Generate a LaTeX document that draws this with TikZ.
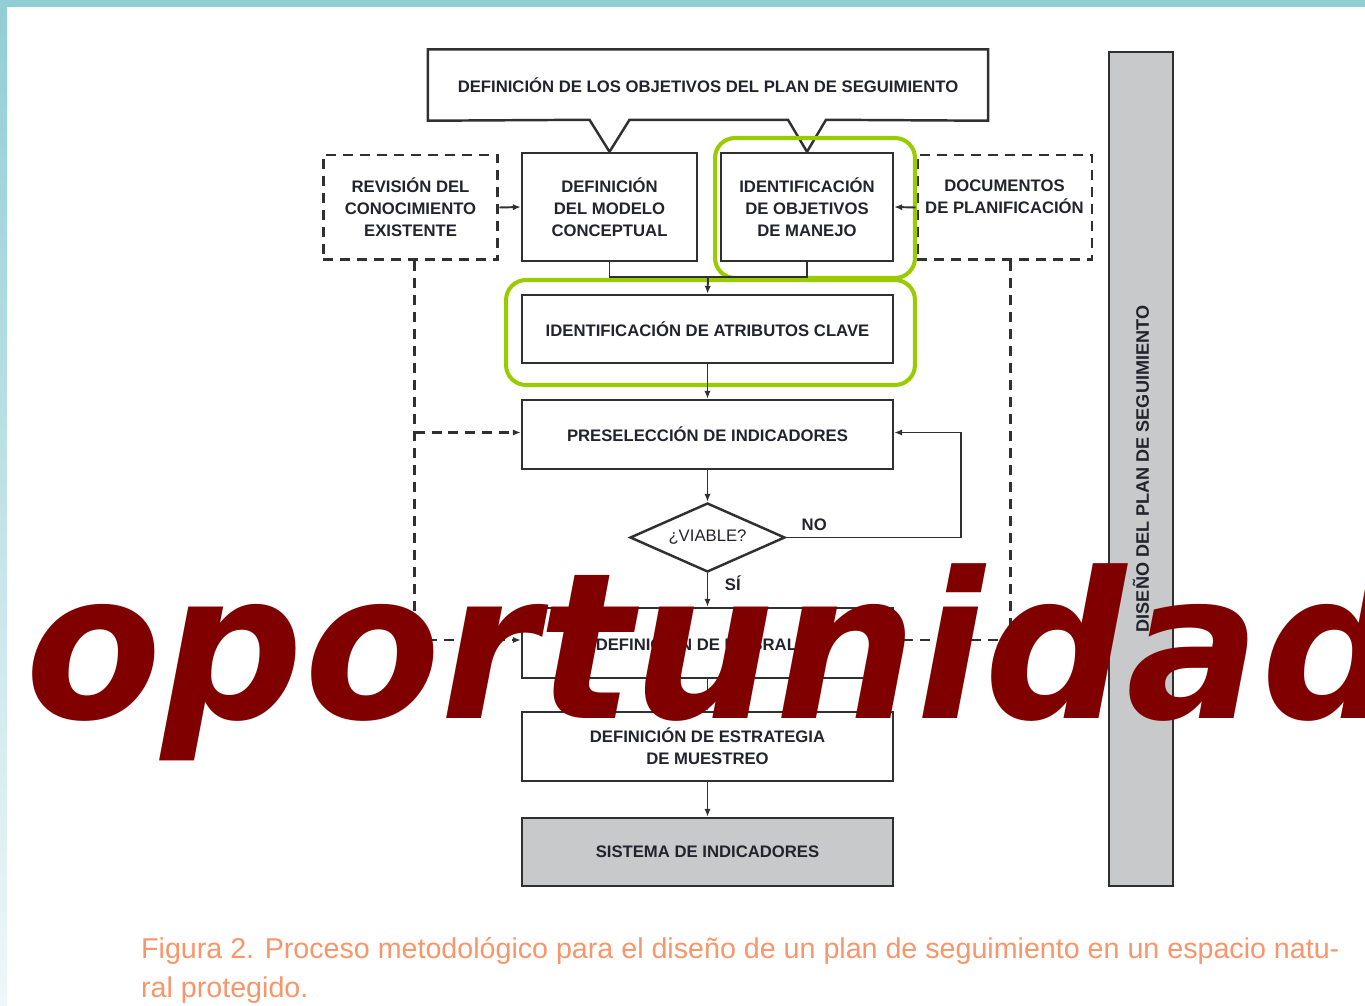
\documentclass[tikz,border=0pt]{standalone}
\usepackage{fontspec}
\setmainfont{Liberation Sans}
\newfontfamily\wmfont{DejaVu Sans}
\usetikzlibrary{shapes.geometric,arrows.meta,calc}
\definecolor{boxline}{HTML}{303030}
\definecolor{boxtext}{HTML}{23232E}
\definecolor{greenmark}{HTML}{99CC00}
\definecolor{barfill}{HTML}{C8C9CB}
\definecolor{frameblue}{HTML}{92CDD6}
\definecolor{captionorange}{HTML}{F7966A}
\definecolor{wmred}{HTML}{800000}

\begin{document}
\begin{tikzpicture}[x=0.02cm,y=-0.02cm,
stepbox/.style={draw=boxline, line width=1.4pt, minimum width=7.42cm, minimum height=1.38cm,
  align=center, text=boxtext, font=\fontsize{9.5}{12.5}\selectfont\bfseries},
smallbox/.style={stepbox, minimum width=3.5cm, minimum height=2.16cm},
sourcebox/.style={smallbox, dash pattern=on 0.2cm off 0.14cm, line width=1.7pt, minimum height=2.1cm},
highlight/.style={draw=greenmark, line width=2.3pt, rounded corners=0.4cm},
flow/.style={draw=boxline, line width=1.1pt, -{Latex[length=4.5pt,width=3.6pt]}},
feed/.style={flow, dash pattern=on 0.2cm off 0.14cm, line width=1.7pt},
lbl/.style={text=boxtext, font=\fontsize{9.5}{12}\selectfont\bfseries}]
    \useasboundingbox (0,0) rectangle (1365,1006);
    \clip (0,0) rectangle (1365,1006);
    % frame
    \fill[frameblue] (0,0) rectangle (1365,7);
    \shade[top color=frameblue, bottom color=frameblue!15] (0,0) rectangle (7,1006);

    % boxes
    \node [stepbox, draw=none, minimum width=11.16cm] (objplan) at (708,85)
      {DEFINICIÓN DE LOS OBJETIVOS DEL PLAN DE SEGUIMIENTO};
    \node [smallbox] (modelo) at (609.5,207) {DEFINICIÓN\\DEL MODELO\\CONCEPTUAL};
    \node [smallbox, minimum width=3.44cm] (manejo) at (807,207) {IDENTIFICACIÓN\\DE OBJETIVOS\\DE MANEJO};
    \node [sourcebox] (revision) at (410.5,207.5) {REVISIÓN DEL\\CONOCIMIENTO\\EXISTENTE};
    \node [sourcebox] (documentos) at (1004.5,207.5) {DOCUMENTOS\\DE PLANIFICACIÓN\\ };
    \node [stepbox, minimum height=1.36cm] (atributos) at (707.5,329) {IDENTIFICACIÓN DE ATRIBUTOS CLAVE};
    \node [stepbox] (preseleccion) at (707.5,434.5) {PRESELECCIÓN DE INDICADORES};
    \node [diamond, draw=boxline, line width=1.4pt, aspect=2.25, inner sep=0pt,
      minimum width=3.1cm, minimum height=1.38cm, lbl, font=\fontsize{9.5}{12}\selectfont] (viable) at (707.5,537.5) {¿VIABLE?};
    \node [stepbox, minimum height=1.4cm] (umbrales) at (707.5,643) {DEFINICIÓN DE UMBRALES};
    \node [stepbox] (estrategia) at (707.5,746.5) {DEFINICIÓN DE ESTRATEGIA\\DE MUESTREO};
    \node [stepbox, fill=barfill, minimum height=1.36cm] (sistema) at (707.5,852) {SISTEMA DE INDICADORES};
    \node [stepbox, fill=barfill, minimum width=16.68cm, minimum height=1.28cm, rotate=90,
      font=\fontsize{10.3}{12}\selectfont\bfseries] (diseno) at (1141,469)
      {DISEÑO DEL PLAN DE SEGUIMIENTO};

    % top box with its two notches
    \draw [boxline, line width=1.4pt] (objplan.north west) -- (objplan.north east) -- (objplan.south east)
      -- ($(manejo.north)+(19,-32)$) -- (manejo.north) -- ($(manejo.north)+(-19,-32)$)
      -- ($(modelo.north)+(20,-32)$) -- (modelo.north) -- ($(modelo.north)+(-20,-32)$)
      -- (objplan.south west) -- cycle;

    % green marks
    \node [highlight, minimum width=4cm, minimum height=2.8cm] (markmanejo) at (815,208) {};
    \node [highlight, minimum width=8.18cm, minimum height=2.1cm] (markatributos) at (710.5,332.5) {};

    % connectors
    \coordinate (merge) at (708,277);
    \coordinate (revout) at ($(revision.south)+(4,0)$);
    \coordinate (docout) at ($(documentos.south)+(6,0)$);
    \draw [boxline, line width=1.1pt] (modelo.south) |- (merge) -| (manejo.south);
    \draw [flow] (merge) -- (atributos.north);
    \draw [flow] (revision.east) -- (modelo.west);
    \draw [flow] (documentos.west) -- (manejo.east);
    \draw [flow] (atributos) -- (preseleccion);
    \draw [flow] (preseleccion) -- (viable);
    \draw [flow] (viable) -- node [lbl, right, pos=0.3, xshift=6pt] {SÍ} (umbrales);
    \draw [flow] (viable.east) -- node [lbl, above, pos=0.16] {NO} ++(175,0) |- ($(preseleccion.east)+(0,-2)$);
    \draw [flow] (umbrales) -- (estrategia);
    \draw [flow] (estrategia) -- (sistema);
    \draw [feed] (revout) |- ($(umbrales.west)+(0,-3)$);
    \draw [feed] (revout |- preseleccion.west) ++(0,-2) -- ($(preseleccion.west)+(0,-2)$);
    \draw [feed] (docout) |- ($(umbrales.east)+(0,-3)$);

    % caption
    \node [anchor=base west, text=captionorange, font=\fontsize{16.3}{20}\selectfont] (caption1) at (135,958)
      {Figura 2. Proceso metodológico para el diseño de un plan de seguimiento en un espacio natu-};
    \node [anchor=base west, text=captionorange, font=\fontsize{16.3}{20}\selectfont] (caption2) at (135,997)
      {ral protegido.};

    % watermark
    \node [anchor=base west, inner sep=0pt, xscale=0.975, text=wmred,
      font=\wmfont\bfseries\itshape\fontsize{116}{116}\selectfont] (mark) at (25,718)
      {oportunidad};
\end{tikzpicture}
\end{document}
